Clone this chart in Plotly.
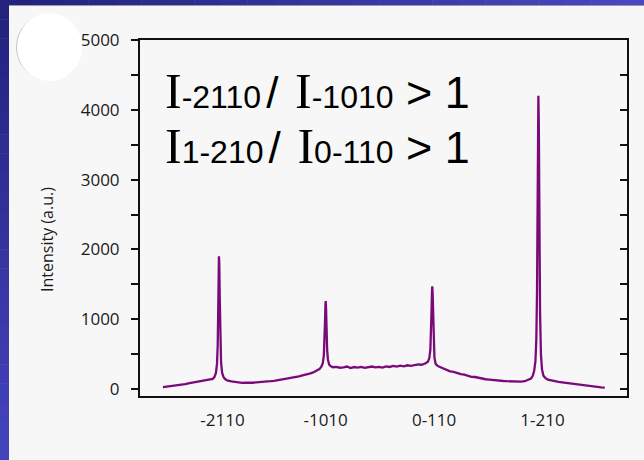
import plotly.graph_objects as go

# ---------------- data ----------------
phi_deg = [
    -1.5, 1, 3.5, 6, 8.5, 11, 13.5, 16, 18.5, 21, 23, 25, 26.5,
    27.5, 28.3, 28.9, 29.3, 29.6, 29.85, 30.0, 30.2, 30.45, 30.8, 31.2, 31.8, 32.6, 33.6,
    35, 37, 39, 41, 43, 45, 47, 49, 51, 53, 55, 57, 59, 61, 63, 65, 67, 69, 71, 73, 75,
    77, 79, 81, 83, 85, 86.5,
    87.6, 88.4, 89.0, 89.4, 89.7, 89.9, 90.05, 90.25, 90.5, 90.85, 91.3, 92, 93,
    94, 96, 98, 100, 102, 104, 106, 108, 110, 112, 114, 116, 118, 120, 122, 124, 126,
    128, 130, 132, 134, 136, 138, 140, 142, 144, 146,
    147.5, 148.3, 148.9, 149.3, 149.6, 149.85, 150.0, 150.2, 150.45, 150.8, 151.2, 151.9, 152.8,
    154, 156, 158, 160, 162, 164, 166, 168, 170, 172, 174, 176, 178, 180, 182, 184, 186,
    188, 190, 192, 194, 196, 198, 200, 202, 204,
    205.5, 206.5, 207.3, 208, 208.5, 208.9, 209.2, 209.45, 209.65, 209.9, 210.2, 210.6,
    211.1, 211.7, 212.5, 213.5,
    215, 217, 219, 221, 223, 225, 227, 229, 231, 233, 235, 237, 239, 241, 243, 245, 247,
]
intensity = [
    28, 35, 42, 50, 62, 70, 85, 95, 110, 118, 125, 135, 145,
    175, 230, 360, 620, 1150, 1700, 1900, 1780, 1300, 700, 380, 230, 170, 140,
    120, 108, 100, 95, 88, 92, 86, 90, 95, 98, 104, 100, 112, 118, 126, 132, 140, 150, 158, 170, 182,
    196, 205, 222, 238, 262, 285,
    320, 370, 480, 700, 1000, 1210, 1260, 1150, 850, 560, 420, 350, 325,
    312, 318, 305, 310, 322, 300, 315, 308, 318, 304, 312, 322, 310, 318, 306, 325, 316,
    330, 322, 335, 326, 340, 332, 345, 352, 348, 365,
    390, 440, 560, 800, 1150, 1420, 1470, 1350, 1000, 650, 450, 360, 335,
    318, 295, 270, 252, 245, 225, 215, 205, 190, 175, 172, 158, 150, 140, 135, 128, 130,
    120, 115, 112, 108, 110, 104, 105, 112, 130,
    150, 190, 260, 400, 700, 1400, 2700, 3900, 4200, 3800, 2500, 1100,
    500, 280, 190, 160,
    135, 122, 110, 102, 95, 88, 78, 72, 66, 60, 55, 50, 45, 38, 32, 25, 20,
]
x_tick_vals = [32, 90, 151, 212]
x_tick_text = ["-2110", "-1010", "0-110", "1-210"]
y_tick_vals = [0, 1000, 2000, 3000, 4000, 5000]
y_axis_title = "Intensity (a.u.)"

# ---------------- geometry helpers ----------------
W, H = 644, 460
ML, MR, MT, MB = 140, 17, 40, 64
PW, PH = W - ML - MR, H - MT - MB


def px_x(px):
    return (px - ML) / PW


def px_y(py):
    return (H - MB - py) / PH


BG = "#f7f7f7"
INK = "#111111"
LINE_COLOR = "#7a0a7a"

fig = go.Figure()
fig.add_trace(go.Scatter(
    x=phi_deg, y=intensity, mode="lines",
    line=dict(color=LINE_COLOR, width=2.3),
    showlegend=False, hoverinfo="skip",
))
# helper trace so the right-hand (inside-tick) axis is drawn
fig.add_trace(go.Scatter(x=[None], y=[None], yaxis="y2", showlegend=False, hoverinfo="skip"))

fig.update_layout(
    width=W, height=H,
    margin=dict(l=ML, r=MR, t=MT, b=MB, pad=0),
    paper_bgcolor=BG, plot_bgcolor=BG,
    font=dict(family="Open Sans", size=17, color="#1a1a1a"),
    xaxis=dict(
        range=[-14.4, 259.5], showgrid=False, zeroline=False,
        showline=True, linecolor=INK, linewidth=2, mirror=True,
        tickmode="array", tickvals=x_tick_vals, ticktext=x_tick_text,
        ticks="", ticklabelstandoff=8,
    ),
    yaxis=dict(
        range=[-100, 5000], showgrid=False, zeroline=False,
        showline=True, linecolor=INK, linewidth=2, mirror=True,
        tickmode="array", tickvals=y_tick_vals,
        ticks="outside", ticklen=7, tickwidth=1.5, tickcolor=INK,
        minor=dict(dtick=500, tick0=0, ticks="outside", ticklen=7, tickwidth=1.5,
                   tickcolor=INK, showgrid=False),
        ticklabelstandoff=8,
    ),
    yaxis2=dict(
        range=[-100, 5000], overlaying="y", side="right", anchor="x",
        showgrid=False, zeroline=False, showline=False, showticklabels=False,
        tickmode="linear", tick0=0, dtick=500,
        ticks="inside", ticklen=7, tickwidth=1.5, tickcolor=INK,
    ),
)

shapes = []
# blue gradient frame (left strip and top strip)
dark = (0x23, 0x21, 0x7c)
light_left = (0x44, 0x44, 0xbd)
light_top = (0x4a, 0x48, 0xc3)
N = 24


def mix(a, b, t):
    return "rgb(%d,%d,%d)" % tuple(round(a[i] + (b[i] - a[i]) * t) for i in range(3))


for i in range(N):
    y0p = H * i / N
    y1p = H * (i + 1) / N
    shapes.append(dict(type="rect", xref="paper", yref="paper",
                       x0=px_x(0), x1=px_x(9), y0=px_y(y1p + 0.5), y1=px_y(y0p),
                       fillcolor=mix(dark, light_left, (i + 0.5) / N), line=dict(width=0),
                       layer="above"))
for i in range(N):
    x0p = 9 + (W - 9) * i / N
    x1p = 9 + (W - 9) * (i + 1) / N
    shapes.append(dict(type="rect", xref="paper", yref="paper",
                       x0=px_x(x0p), x1=px_x(x1p + 0.5), y0=px_y(5), y1=px_y(0),
                       fillcolor=mix(dark, light_top, (i + 0.5) / N), line=dict(width=0),
                       layer="above"))
shapes.append(dict(type="rect", xref="paper", yref="paper",
                   x0=px_x(9), x1=px_x(W), y0=px_y(6), y1=px_y(5),
                   fillcolor="#9a9aa8", line=dict(width=0), layer="above"))
# white disc in the corner (with faint shadow)
shapes.append(dict(type="circle", xref="paper", yref="paper",
                   x0=px_x(16), x1=px_x(81), y0=px_y(80), y1=px_y(14),
                   fillcolor="#c4c4c4", line=dict(width=0), layer="above"))
shapes.append(dict(type="circle", xref="paper", yref="paper",
                   x0=px_x(17), x1=px_x(82), y0=px_y(81), y1=px_y(13),
                   fillcolor="#ffffff", line=dict(width=0), layer="above"))
fig.update_layout(shapes=shapes)

SERIF = "'Liberation Serif', 'Times New Roman', serif"
SANS = "'Liberation Sans', Arial, sans-serif"


def ratio_line(a, b):
    big_i = '<span style="font-family:%s;font-size:50px">I</span>' % SERIF
    sub = '<span style="font-family:%s;font-size:32px">%s</span>'
    slash = ('<span style="font-family:%s;font-size:18px">&nbsp;</span>'
             '<span style="font-family:%s;font-size:44px">/</span>'
             '<span style="font-family:%s;font-size:30px">&nbsp;&nbsp;</span>') % (SANS, SANS, SANS)
    tail = '<span style="font-family:%s;font-size:45px">&nbsp;&gt;&nbsp;1</span>' % SANS
    return big_i + sub % (SANS, a) + slash + big_i + sub % (SANS, b) + tail


fig.add_annotation(xref="paper", yref="paper", x=px_x(163), y=px_y(91),
                   xanchor="left", yanchor="middle", showarrow=False,
                   text=ratio_line("-2110", "-1010"), font=dict(color="#000000"))
fig.add_annotation(xref="paper", yref="paper", x=px_x(163), y=px_y(146),
                   xanchor="left", yanchor="middle", showarrow=False,
                   text=ratio_line("1-210", "0-110"), font=dict(color="#000000"))
fig.add_annotation(xref="paper", yref="paper", x=px_x(47), y=px_y(240),
                   xanchor="center", yanchor="middle", showarrow=False, textangle=-90,
                   text=y_axis_title, font=dict(family="Open Sans", size=16, color="#1a1a1a"))

fig.write_html("out.html")
